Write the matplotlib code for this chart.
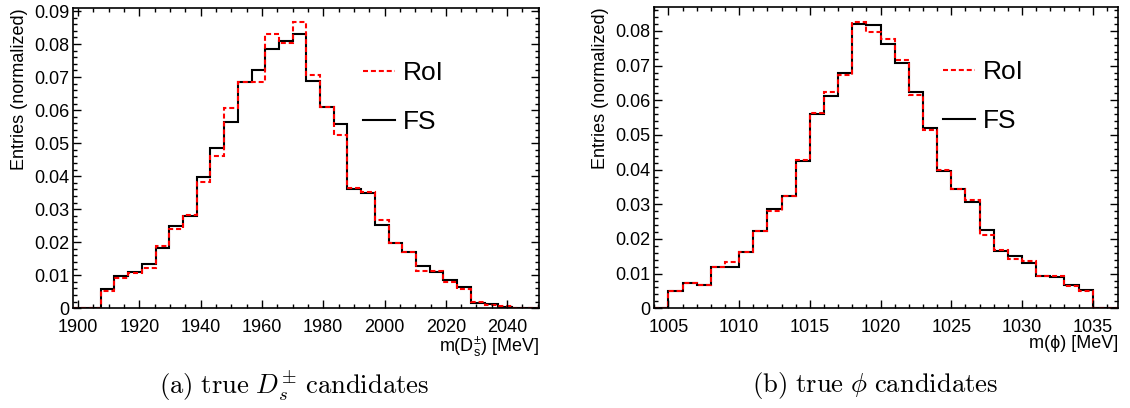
import numpy as np
import matplotlib
matplotlib.use("Agg")
import matplotlib.pyplot as plt
from matplotlib.ticker import MultipleLocator, FuncFormatter
from matplotlib.lines import Line2D

plt.rcParams['font.family'] = ['Liberation Sans', 'DejaVu Sans']
plt.rcParams['mathtext.fontset'] = 'custom'
plt.rcParams['mathtext.rm'] = 'Liberation Sans'
plt.rcParams['mathtext.it'] = 'Liberation Sans:italic'

# D_s histogram: 34 bins between 1898.5 and 2050.5 MeV
ds_range = (1898.5, 2050.5)
ds_fs = [0, 0, 0.0059, 0.0098, 0.0111, 0.0134, 0.0182, 0.0250, 0.0279, 0.0399,
         0.0484, 0.0565, 0.0686, 0.0722, 0.0784, 0.0808, 0.0832, 0.0688, 0.0610,
         0.0558, 0.0361, 0.0348, 0.0251, 0.0199, 0.0171, 0.0128, 0.0109, 0.0086,
         0.0064, 0.0017, 0.0013, 0.0005, 0.0001, 0]
ds_roi = [0, 0, 0.0052, 0.0091, 0.0106, 0.0123, 0.0190, 0.0239, 0.0283, 0.0383,
          0.0461, 0.0605, 0.0686, 0.0686, 0.0829, 0.0802, 0.0868, 0.0705, 0.0610,
          0.0525, 0.0363, 0.0352, 0.0267, 0.0197, 0.0171, 0.0114, 0.0114, 0.0081,
          0.0059, 0.0018, 0.0011, 0.0007, 0.0002, 0]

# phi histogram: 1 MeV bins between 1004 and 1037 MeV
phi_range = (1004, 1037)
phi_fs = [0, 0.0051, 0.0072, 0.0067, 0.0120, 0.0120, 0.0161, 0.0223, 0.0287, 0.0325,
          0.0426, 0.0561, 0.0613, 0.0680, 0.0820, 0.0818, 0.0762, 0.0709, 0.0625,
          0.0519, 0.0397, 0.0344, 0.0308, 0.0226, 0.0166, 0.0151, 0.0130, 0.0093,
          0.0089, 0.0067, 0.0053, 0, 0]
phi_roi = [0, 0.0051, 0.0072, 0.0067, 0.0118, 0.0133, 0.0161, 0.0223, 0.0282, 0.0325,
           0.0428, 0.0563, 0.0625, 0.0673, 0.0827, 0.0796, 0.0776, 0.0716, 0.0615,
           0.0513, 0.0399, 0.0344, 0.0311, 0.0212, 0.0168, 0.0141, 0.0137, 0.0094,
           0.0093, 0.0063, 0.0051, 0, 0]

fig = plt.figure(figsize=(11.3, 4.08), dpi=100)
ax1 = fig.add_axes([0.0649, 0.2444, 0.4124, 0.735])
ax2 = fig.add_axes([0.5790, 0.2444, 0.4106, 0.7375])

red_dash = (0, (2.4, 1.4))
lw = 1.5


def draw(ax, rng, fs, roi, xlim, ylim, major, minor, xlabel):
    edges = np.linspace(rng[0], rng[1], len(fs) + 1)
    ax.stairs(fs, edges, baseline=0, color='black', lw=lw)
    ax.stairs(roi, edges, baseline=0, color='red', lw=lw, linestyle=red_dash)
    ax.set_xlim(*xlim)
    ax.set_ylim(*ylim)
    ax.xaxis.set_major_locator(MultipleLocator(major))
    ax.xaxis.set_minor_locator(MultipleLocator(minor))
    ax.yaxis.set_major_locator(MultipleLocator(0.01))
    ax.yaxis.set_minor_locator(MultipleLocator(0.002))
    ax.yaxis.set_major_formatter(FuncFormatter(lambda v, p: '0' if abs(v) < 1e-9 else f'{v:.2f}'))
    ax.tick_params(which='both', direction='in', top=True, right=True, labelsize=13)
    ax.tick_params(which='major', length=6, width=1)
    ax.tick_params(which='minor', length=3, width=1)
    ax.tick_params(axis='x', pad=8)
    ax.tick_params(axis='y', pad=3)
    for s in ax.spines.values():
        s.set_linewidth(1.2)
    ax.set_ylabel('Entries (normalized)', fontsize=13, loc='top', labelpad=4)
    ax.set_xlabel(xlabel, fontsize=13, loc='right', labelpad=-1)
    handles = [Line2D([], [], color='red', lw=lw, linestyle=red_dash),
               Line2D([], [], color='black', lw=lw)]
    ax.legend(handles, ['RoI', 'FS'], loc='upper left', bbox_to_anchor=(0.6, 0.86),
              frameon=False, fontsize=19, handlelength=1.2, handletextpad=0.3,
              labelspacing=0.95, borderaxespad=0)


draw(ax1, ds_range, ds_fs, ds_roi, (1898.5, 2050.5), (0, 0.0908), 20, 5,
     r'm(D$_{\rm s}^{\pm}$) [MeV]')
draw(ax2, phi_range, phi_fs, phi_roi, (1004, 1036.8), (0, 0.0868), 5, 1,
     'm(ϕ) [MeV]')

fig.text(0.260, 0.055, r'$\mathrm{(a)\ true\ }D_s^{\pm}\mathrm{\ candidates}$',
         fontsize=19.2, ha='center', va='center', math_fontfamily='cm')
fig.text(0.774, 0.055, r'$\mathrm{(b)\ true\ }\phi\mathrm{\ candidates}$',
         fontsize=19.2, ha='center', va='center', math_fontfamily='cm')

fig.savefig('out.png', dpi=100)
